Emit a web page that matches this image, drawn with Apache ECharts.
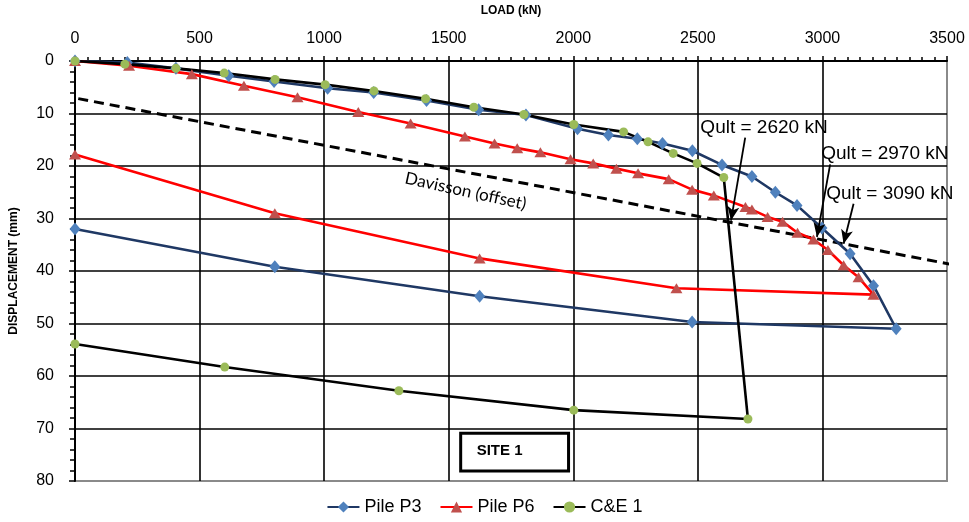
<!DOCTYPE html>
<html>
<head>
<meta charset="utf-8">
<script src="https://cdn.jsdelivr.net/npm/echarts@6/dist/echarts.min.js"></script>
<style>
  html, body { margin: 0; padding: 0; background: #ffffff; }
  #chart { width: 969px; height: 522px; }
</style>
</head>
<body>
<div id="chart"></div>
<script>
// Load test results, SITE 1: load (kN) against pile head displacement (mm)
const p3Load = [0, 210, 405, 617, 799, 1014, 1199, 1411, 1620, 1810, 2017, 2141, 2257, 2358, 2478, 2597, 2717, 2811, 2898, 2998, 3111, 3205, 3296, 2477, 1624, 802, 0];
const p3Disp = [0, 0.3, 1.4, 2.8, 3.9, 5.2, 6.0, 7.5, 9.3, 10.3, 12.9, 14.1, 14.8, 15.7, 17.1, 19.8, 22.0, 25.0, 27.5, 31.8, 36.7, 42.8, 51.0, 49.7, 44.8, 39.2, 32.0];

const p6Load = [0, 217, 469, 678, 893, 1137, 1347, 1565, 1684, 1775, 1868, 1989, 2080, 2173, 2260, 2383, 2477, 2564, 2691, 2717, 2780, 2840, 2900, 2964, 3022, 3085, 3145, 3205, 2414, 1624, 802, 0];
const p6Disp = [0, 0.9, 2.5, 4.7, 6.9, 9.7, 11.9, 14.4, 15.7, 16.6, 17.4, 18.7, 19.5, 20.5, 21.4, 22.5, 24.5, 25.6, 27.8, 28.3, 29.7, 30.6, 32.7, 34.0, 36.0, 38.9, 41.2, 44.5, 43.3, 37.6, 29.0, 17.8];

const ceLoad = [0, 200, 405, 599, 803, 1004, 1200, 1407, 1601, 1802, 2002, 2202, 2300, 2401, 2497, 2604, 2701, 2002, 1300, 601, 0];
const ceDisp = [0, 0.6, 1.4, 2.3, 3.5, 4.5, 5.7, 7.2, 8.8, 10.2, 12.1, 13.5, 15.4, 17.6, 19.5, 22.2, 68.2, 66.5, 62.8, 58.3, 53.9];

// Davisson offset limit line (end points, extends slightly past the plot)
const davLoad = [-50, 3580];
const davDisp = [6.6, 39.3];

// Ultimate capacity callouts: text anchor and arrow (from -> to) in load/displacement units
const qultText = ['Qult = 2620 kN', 'Qult = 2970 kN', 'Qult = 3090 kN'];
const qultTextAt = [[2510, 12.7], [2995, 17.6], [3015, 25.2]];
const qultArrowFrom = [[2690, 14.6], [3031, 19.7], [3125, 27.2]];
const qultArrowTo = [[2633, 30.4], [2978, 33.5], [3085, 34.8]];

const xTicks = { min: 0, max: 3500, step: 500 };
const yTicks = { min: 0, max: 80, step: 10 };

const FONT = '"Liberation Sans", Arial, sans-serif';
const pairs = (xs, ys) => xs.map((x, i) => [x, ys[i]]);

const chart = echarts.init(document.getElementById('chart'), null, { renderer: 'canvas' });

const option = {
  animation: false,
  backgroundColor: '#ffffff',
  textStyle: { fontFamily: FONT, color: '#000' },
  grid: {
    left: 74, right: 22, top: 58, bottom: 41,
    show: true, borderColor: '#8a8a8a', borderWidth: 2, backgroundColor: 'transparent'
  },
  legend: {
    bottom: 1, left: 'center',
    data: ['Pile P3', 'Pile P6', 'C&E 1'],
    itemWidth: 32, itemHeight: 14, itemGap: 18,
    textStyle: { fontFamily: FONT, fontSize: 18, color: '#000' }
  },
  xAxis: {
    type: 'value', position: 'top',
    min: xTicks.min, max: xTicks.max, interval: xTicks.step,
    name: 'LOAD (kN)', nameLocation: 'middle', nameGap: 44,
    nameTextStyle: { fontFamily: FONT, fontSize: 12, fontWeight: 'bold', color: '#000' },
    axisLine: { show: true, onZero: false, lineStyle: { color: '#000', width: 2 } },
    axisTick: { show: true, inside: false, length: 5, lineStyle: { color: '#000', width: 1.5 } },
    minorTick: { show: true, splitNumber: 10, length: 4, lineStyle: { color: '#000', width: 1.5 } },
    axisLabel: { fontFamily: FONT, fontSize: 16, color: '#000', margin: 14, formatter: (v) => String(v) },
    splitLine: { show: true, showMinLine: false, showMaxLine: false, lineStyle: { color: '#000', width: 1.6 } }
  },
  yAxis: {
    type: 'value', inverse: true,
    min: yTicks.min, max: yTicks.max, interval: yTicks.step,
    name: 'DISPLACEMENT (mm)', nameLocation: 'middle', nameGap: 55, nameRotate: 90,
    nameTextStyle: { fontFamily: FONT, fontSize: 12, fontWeight: 'bold', color: '#000' },
    axisLine: { show: true, onZero: false, lineStyle: { color: '#000', width: 2 } },
    axisTick: { show: true, inside: false, length: 6, lineStyle: { color: '#000', width: 1.5 } },
    minorTick: { show: true, splitNumber: 5, length: 5, lineStyle: { color: '#000', width: 1.5 } },
    axisLabel: { fontFamily: FONT, fontSize: 16, color: '#000', margin: 21, formatter: (v) => String(v) },
    splitLine: { show: true, showMinLine: false, showMaxLine: false, lineStyle: { color: '#000', width: 1.6 } }
  },
  series: [
    {
      name: 'Davisson', type: 'line', data: pairs(davLoad, davDisp),
      symbol: 'none', clip: false, silent: true, z: 1,
      lineStyle: { color: '#000', width: 3, type: [10, 6] },
      markLine: {
        silent: true, animation: false,
        symbol: ['none', 'arrow'], symbolSize: [9, 14],
        label: { show: false },
        lineStyle: { color: '#000', width: 1.8, type: 'solid' },
        data: qultArrowFrom.map((f, i) => [{ coord: f }, { coord: qultArrowTo[i] }])
      }
    },
    {
      name: 'Pile P3', type: 'line', data: pairs(p3Load, p3Disp), z: 2,
      symbol: 'diamond', symbolSize: [11, 13],
      itemStyle: { color: '#4F81BD' },
      lineStyle: { color: '#1F3864', width: 2.6 }
    },
    {
      name: 'Pile P6', type: 'line', data: pairs(p6Load, p6Disp), z: 2,
      symbol: 'triangle', symbolSize: [12, 10],
      itemStyle: { color: '#C0504D' },
      lineStyle: { color: '#FF0000', width: 2.6 }
    },
    {
      name: 'C&E 1', type: 'line', data: pairs(ceLoad, ceDisp), z: 2,
      symbol: 'circle', symbolSize: 9,
      itemStyle: { color: '#9BBB59' },
      lineStyle: { color: '#000', width: 2.6 }
    }
  ]
};

chart.setOption(option);

// Annotations placed through the axes' own conversion
const toPx = (pt) => chart.convertToPixel({ gridIndex: 0 }, pt);
const graphics = [];

qultText.forEach((t, i) => {
  const p = toPx(qultTextAt[i]);
  graphics.push({
    type: 'text', x: p[0], y: p[1], z: 20, silent: true,
    style: { text: t, x: 0, y: 0, font: '19px ' + FONT, fill: '#000', align: 'left', verticalAlign: 'middle' }
  });
});

const davLabel = toPx([1568, 24.8]);
graphics.push({
  type: 'text', x: davLabel[0], y: davLabel[1], rotation: -0.215, z: 20, silent: true,
  style: { text: 'Davisson (offset)', x: 0, y: 0, font: '17px Lato, "Open Sans", sans-serif', fill: '#000', align: 'center', verticalAlign: 'middle' }
});

const boxTL = toPx([1548, 70.9]);
const boxBR = toPx([1981, 78.1]);
graphics.push({
  type: 'rect', z: 20, silent: true,
  shape: { x: boxTL[0], y: boxTL[1], width: boxBR[0] - boxTL[0], height: boxBR[1] - boxTL[1] },
  style: { fill: '#fff', stroke: '#000', lineWidth: 3 }
});
graphics.push({
  type: 'text', x: boxTL[0] + 16, y: (boxTL[1] + boxBR[1]) / 2 - 1, z: 21, silent: true,
  style: { text: 'SITE 1', x: 0, y: 0, font: 'bold 15px ' + FONT, fill: '#000', align: 'left', verticalAlign: 'middle' }
});

chart.setOption({ graphic: graphics });
</script>
</body>
</html>
